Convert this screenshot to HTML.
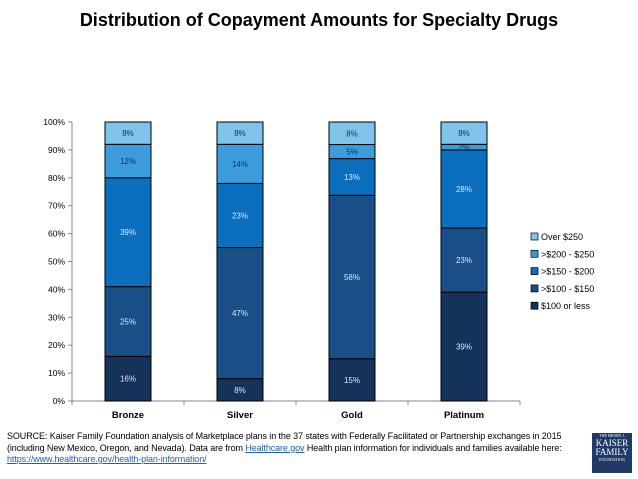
<!DOCTYPE html>
<html><head><meta charset="utf-8"><style>
body{margin:0;background:#fff;font-family:"Liberation Sans",sans-serif;}
#wrap{position:relative;width:638px;height:479px;overflow:hidden}
.title{position:absolute;left:0;top:10px;width:638px;text-align:center;font-weight:bold;font-size:18px;color:#000}
.src{position:absolute;left:7px;top:431px;font-size:9px;letter-spacing:-0.1px;line-height:11.5px;color:#000;width:600px;white-space:nowrap}
.src a{color:#1f5fb5;text-decoration:underline}
.logo{position:absolute;left:592px;top:433px;width:40px;height:40px;background:#1f3a66;color:#fff;font-family:"Liberation Serif",serif;text-align:center;font-size:9px;line-height:9px}
</style></head><body>
<div id="wrap">
<div class="title">Distribution of Copayment Amounts for Specialty Drugs</div>
<svg id="chart" width="638" height="479" style="position:absolute;left:0;top:0"></svg>
<div class="src">SOURCE: Kaiser Family Foundation analysis of Marketplace plans in the 37 states with Federally Facilitated or Partnership exchanges in 2015<br>(including New Mexico, Oregon, and Nevada). Data are from <a>Healthcare.gov</a> Health plan information for individuals and families available here:<br><a>https://www.healthcare.gov/health-plan-information/</a></div>
<div class="logo"><div style="font-size:4px;line-height:6px">THE HENRY J.</div>KAISER<br>FAMILY<div style="font-size:4px;line-height:6px">FOUNDATION</div></div>
</div>
<script>
const categories=["Bronze","Silver","Gold","Platinum"];
const seriesNames=["$100 or less",">$100 - $150",">$150 - $200",">$200 - $250","Over $250"];
const s100=[16,8,15,39];
const s150=[25,47,58,23];
const s200=[39,23,13,28];
const s250=[12,14,5,2];
const sOver=[8,8,8,8];
const yTicks=[0,10,20,30,40,50,60,70,80,90,100];
const series=[s100,s150,s200,s250,sOver];
const colors=["#15325a","#174f86","#0b6fbe","#3b9ddd","#80c4ec"];
const textCols=["#dde8f4","#dde8f4","#dde8f4","#10305a","#10305a"];
const NS="http://www.w3.org/2000/svg";
const svg=document.getElementById('chart');
const x0=72,x1=520,y0=401,y1=122;
const y=v=>y0-(v/100)*(y0-y1);
const band=(x1-x0)/categories.length;
const xc=i=>x0+band*(i+0.5);
const bw=46;
function mk(t,a){const e=document.createElementNS(NS,t);for(const k in a)e.setAttribute(k,a[k]);svg.appendChild(e);return e;}
let ax=mk('line',{x1:x0,y1:y1,x2:x0,y2:y0,stroke:'#888','stroke-width':1});


let bx=mk('line',{x1:x0,y1:y0,x2:x1,y2:y0,stroke:'#888','stroke-width':1});


yTicks.forEach(t=>{
 mk('line',{x1:x0-4,y1:y(t),x2:x0,y2:y(t),stroke:'#888'});
 const tx=mk('text',{x:x0-7,y:y(t)+3,'text-anchor':'end','font-size':8.5,fill:'#000'});
 tx.textContent=t+'%';
 
 
});
for(let i=0;i<=categories.length;i++)mk('line',{x1:x0+band*i,y1:y0,x2:x0+band*i,y2:y0+4,stroke:'#888'});
categories.forEach((c,i)=>{
 let total=0;series.forEach(s=>total+=s[i]);
 const sc=100/total;
 let cum=0;
 series.forEach((s,k)=>{
  const v=s[i];const top=cum+v;
  const yb=y(cum*sc),yt=y(top*sc);
  const r=mk('rect',{x:xc(i)-bw/2,y:yt,width:bw,height:yb-yt,fill:colors[k],stroke:'#000','stroke-width':1});
  
  
  const lt=mk('text',{x:xc(i),y:(yb+yt)/2+3,'text-anchor':'middle','font-size':8,fill:textCols[k]});
  lt.textContent=v+'%';
  
  
  cum=top;
 });
 const ct=mk('text',{x:xc(i),y:y0+17,'text-anchor':'middle','font-size':9.5,'font-weight':'bold',fill:'#000'});
 ct.textContent=c;
 
 
});
for(let k=seriesNames.length-1;k>=0;k--){
 const ly=237+(seriesNames.length-1-k)*17.3;
 const lr=mk('rect',{x:531,y:ly-4,width:7,height:7,fill:colors[k],stroke:'#000','stroke-width':0.7});
 
 
 const lt=mk('text',{x:541,y:ly+3,'font-size':9,fill:'#000'});
 lt.textContent=seriesNames[k];
 
 
}
</script>
</body></html>
